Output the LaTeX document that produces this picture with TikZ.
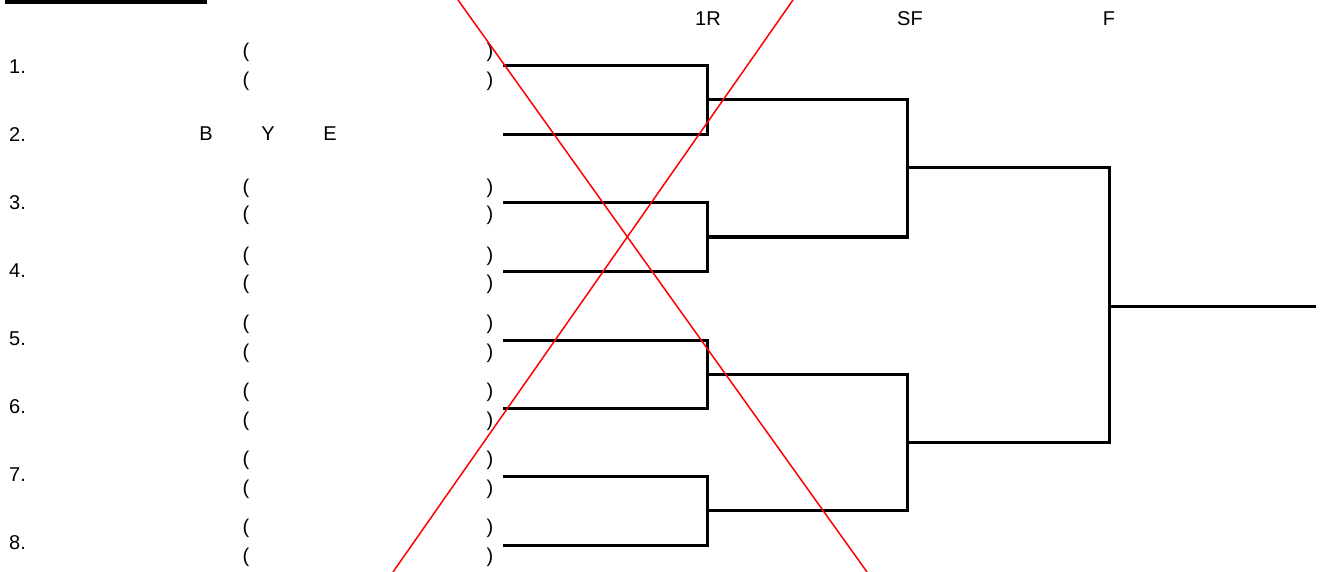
\documentclass[tikz,border=0pt]{standalone}
\usepackage{fontspec}
\setmainfont{Liberation Sans}
\begin{document}
\begin{tikzpicture}[x=1pt,y=-1pt,
  txt/.style={inner sep=0pt,font=\fontsize{20}{22}\selectfont},
  br/.style={line width=3pt},
  cross/.style={red,line width=1.5pt}]
\useasboundingbox (0,0) rectangle (1325,572);
% cut-off underline of the title
\fill (5,0) rectangle (207,4);
% round headers
\node[txt] (h1) at (708,18.5) {1R};
\node[txt] (h2) at (910,18.5) {SF};
\node[txt] (h3) at (1109,18.5) {F};
% seed numbers
\foreach \n/\y in {1/67,2/135,3/203,4/271,5/339,6/407,7/475,8/543}
  \node[txt,anchor=west] (num\n) at (9,\y) {\n.};
% BYE
\node[txt] (b) at (206,134) {B};
\node[txt] (yy) at (268,134) {Y};
\node[txt] (e) at (330,134) {E};
% parentheses
\foreach \i/\y in {a/52,b/81,c/188,d/215,e/256,f/284,g/324,h/353,i/392,j/421,k/460,l/489,m/528,n/557}{
  \node[txt] (lp\i) at (246,\y) {(};
  \node[txt] (rp\i) at (490,\y) {)};
}
% slots
\coordinate (s1) at (503,66);
\coordinate (s2) at (503,135);
\coordinate (s3) at (503,203);
\coordinate (s4) at (503,271);
\coordinate (s5) at (503,340);
\coordinate (s6) at (503,408);
\coordinate (s7) at (503,476);
\coordinate (s8) at (503,545);
% first-round joints
\coordinate (q1) at (707,100);
\coordinate (q2) at (707,237);
\coordinate (q3) at (707,374);
\coordinate (q4) at (707,510);
% semifinal joints
\coordinate (r1) at (907,168);
\coordinate (r2) at (907,442);
% final joint and end
\coordinate (f1) at (1109,306);
\coordinate (w) at (1316,306);
% first round
\draw[br] (s1) -- (707,66) -- (707,135) -- (s2);
\draw[br] (s3) -- (707,203) -- (707,271) -- (s4);
\draw[br] (s5) -- (707,340) -- (707,408) -- (s6);
\draw[br] (s7) -- (707,476) -- (707,545) -- (s8);
% semifinal
\draw[br] (q1) -- (907,100) -- (907,237) -- (q2);
\draw[br] (q3) -- (907,374) -- (907,510) -- (q4);
% final
\draw[br] (r1) -- (1109,168) -- (1109,442) -- (r2);
\draw[br] (f1) -- (w);
% red cross
\coordinate (c1) at (458,0);
\coordinate (c2) at (867,572);
\coordinate (c3) at (793,0);
\coordinate (c4) at (393,572);
\draw[cross] (c1) -- (c2);
\draw[cross] (c3) -- (c4);
\end{tikzpicture}
\end{document}
